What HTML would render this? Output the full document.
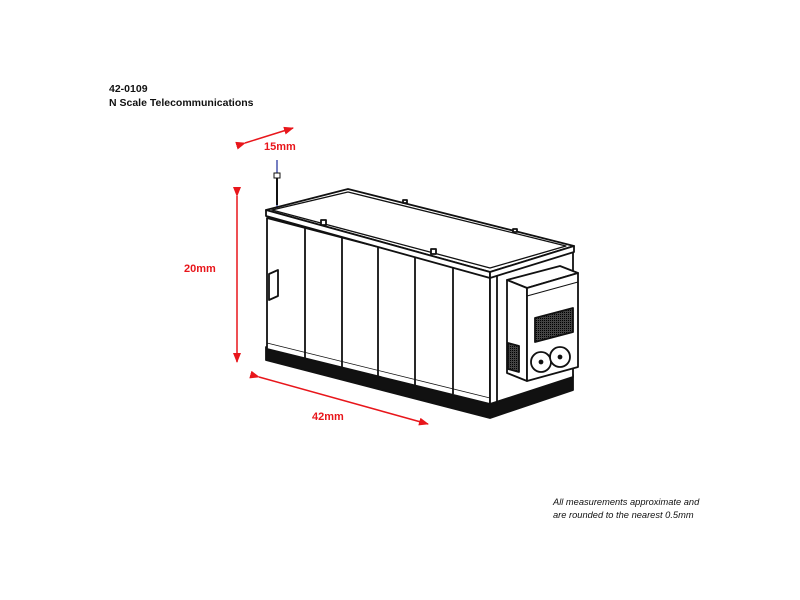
<!DOCTYPE html>
<html><head><style>
html,body{margin:0;padding:0;background:#fff;}
svg{display:block;}
</style></head><body>
<svg width="800" height="600" viewBox="0 0 800 600" xmlns="http://www.w3.org/2000/svg">
<defs>
<marker id="ah" markerWidth="10" markerHeight="8" refX="9" refY="4" orient="auto" markerUnits="userSpaceOnUse">
<path d="M0,0 L10,4 L0,8 Z" fill="#e8161b"/></marker>
<pattern id="grid" width="2" height="2" patternUnits="userSpaceOnUse"><rect width="2" height="2" fill="#444"/><rect width="1" height="1" fill="#000"/></pattern>
</defs>
<text x="109" y="92" font-family="Liberation Sans, sans-serif" font-weight="bold" font-size="10.5" fill="#111">42-0109</text>
<text x="109" y="106" font-family="Liberation Sans, sans-serif" font-weight="bold" font-size="10.5" fill="#111">N Scale Telecommunications</text>

<line x1="245" y1="143" x2="293" y2="128" stroke="#e8161b" stroke-width="1.5" marker-start="url(#ah)" marker-end="url(#ah)"/>
<text x="264" y="150" font-family="Liberation Sans, sans-serif" font-weight="bold" font-size="11" fill="#e8161b">15mm</text>
<line x1="237" y1="196" x2="237" y2="362" stroke="#e8161b" stroke-width="1.5" marker-start="url(#ah)" marker-end="url(#ah)"/>
<text x="184" y="272" font-family="Liberation Sans, sans-serif" font-weight="bold" font-size="11" fill="#e8161b">20mm</text>
<line x1="259" y1="377" x2="428" y2="424" stroke="#e8161b" stroke-width="1.5" marker-start="url(#ah)" marker-end="url(#ah)"/>
<text x="312" y="420" font-family="Liberation Sans, sans-serif" font-weight="bold" font-size="11" fill="#e8161b">42mm</text>

<line x1="277" y1="160" x2="277" y2="210" stroke="#1a2a9a" stroke-width="1.2"/>
<rect x="274" y="173" width="6" height="5" fill="#fff" stroke="#111"/>
<line x1="277" y1="178" x2="277" y2="205" stroke="#111" stroke-width="2"/>

<g stroke="#111" stroke-width="1.8" fill="#fff" stroke-linejoin="round">
<polygon points="266,347 490,402 573,375 573,390 490,418 266,360" fill="#111"/>
<polygon points="267,218 490,276 490,404 267,349"/>
<polygon points="490,276 573,251 573,377 490,404"/>
<polygon points="266,210 348,189 574,246 490,272"/>
<polygon points="272,210 348,192 566,246 490,268" fill="none" stroke-width="1.3"/>
<polygon points="266,210 490,272 490,278 266,216"/>
<polygon points="490,272 574,246 574,252 490,278"/>
<line x1="305" y1="228" x2="305" y2="358"/>
<line x1="342" y1="238" x2="342" y2="367"/>
<line x1="378" y1="247" x2="378" y2="376"/>
<line x1="415" y1="257" x2="415" y2="385"/>
<line x1="453" y1="267" x2="453" y2="394"/>
<line x1="497" y1="276" x2="497" y2="406"/>
<line x1="267" y1="343" x2="490" y2="398" stroke-width="0.8"/>
<polygon points="269,274 278,270 278,296 269,300"/>
<rect x="321" y="220" width="5" height="5"/>
<rect x="431" y="249" width="5" height="5"/>
<rect x="403" y="200" width="4" height="3"/>
<rect x="513" y="229" width="4" height="3"/>
<polygon points="507,280 560,266 578,273 527,288"/>
<polygon points="507,280 527,288 527,381 507,373"/>
<polygon points="527,288 578,273 578,367 527,381"/>
<line x1="527" y1="296" x2="578" y2="282" stroke-width="1"/>
<polygon points="535,318 573,308 573,332 535,342" fill="url(#grid)"/>
<polygon points="508,343 519,346 519,372 508,369" fill="url(#grid)"/>
<circle cx="541" cy="362" r="10"/>
<circle cx="560" cy="357" r="10"/>
<circle cx="541" cy="362" r="1.5" fill="#111"/>
<circle cx="560" cy="357" r="1.5" fill="#111"/>
</g>

<text x="553" y="505" font-family="Liberation Sans, sans-serif" font-style="italic" font-size="9.3" fill="#111">All measurements approximate and</text>
<text x="553" y="518" font-family="Liberation Sans, sans-serif" font-style="italic" font-size="9.3" fill="#111">are rounded to the nearest 0.5mm</text>
</svg>
</body></html>
